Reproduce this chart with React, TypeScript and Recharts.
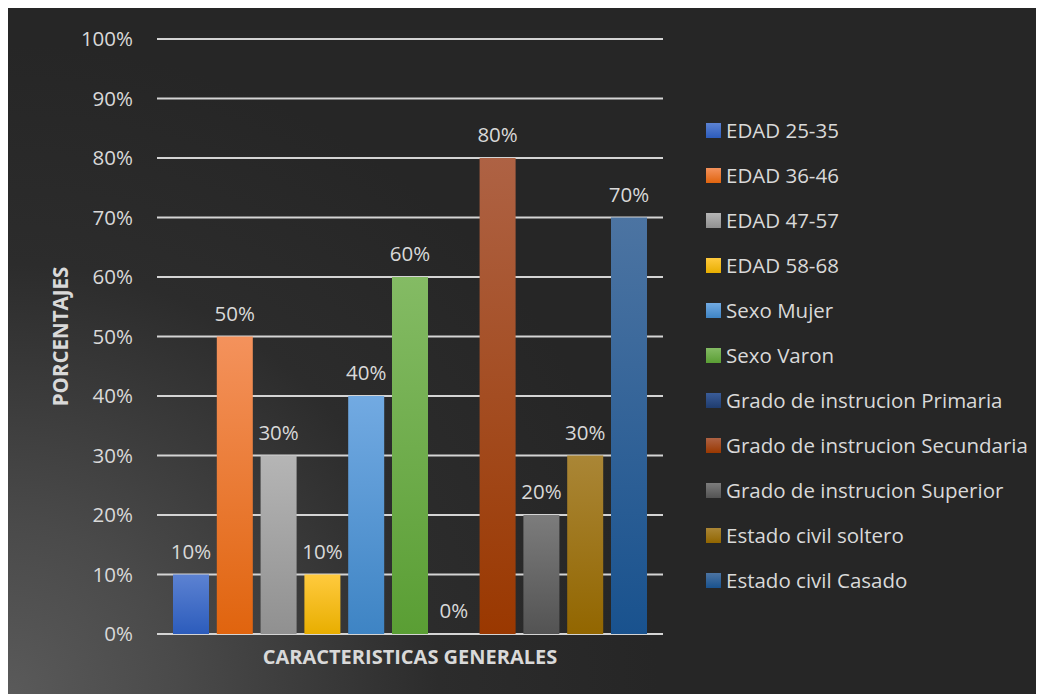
import React from 'react';
import { BarChart, Bar, XAxis, YAxis, CartesianGrid, Legend, LabelList } from 'recharts';

// One category, eleven series (one bar each)
const categories = ['CARACTERISTICAS GENERALES'];

const seriesNames = [
  'EDAD 25-35',
  'EDAD 36-46',
  'EDAD 47-57',
  'EDAD 58-68',
  'Sexo Mujer',
  'Sexo Varon',
  'Grado de instrucion Primaria',
  'Grado de instrucion Secundaria',
  'Grado de instrucion Superior',
  'Estado civil soltero',
  'Estado civil Casado',
];

const seriesValues = [10, 50, 30, 10, 40, 60, 0, 80, 20, 30, 70];

const yTicks = [0, 10, 20, 30, 40, 50, 60, 70, 80, 90, 100];

// Vertical gradient for each series: [top, bottom]
const seriesGradients: [string, string][] = [
  ['#5c82d2', '#2c5cbc'],
  ['#f4925c', '#e0640e'],
  ['#b5b5b5', '#909090'],
  ['#ffca3e', '#e8ae00'],
  ['#72aae2', '#3e84c4'],
  ['#84bb64', '#5a9e34'],
  ['#3a5c98', '#1f3c6e'],
  ['#ae6244', '#9a3800'],
  ['#7c7c7c', '#535353'],
  ['#aa8636', '#926600'],
  ['#4c74a2', '#19528e'],
];

const data = categories.map((name) => {
  const row: Record<string, string | number> = { name };
  seriesNames.forEach((s, i) => {
    row[s] = seriesValues[i];
  });
  return row;
});

const TEXT = '#d9d9d9';
const FONT = '"Open Sans", "Noto Sans", sans-serif';

// Legend in series order, with gradient swatches
const LegendList = (props: any) => {
  const payload = [...(props.payload || [])].sort(
    (a: any, b: any) => seriesNames.indexOf(a.value) - seriesNames.indexOf(b.value)
  );
  return (
    <div style={{ fontFamily: FONT }}>
      {payload.map((entry: any) => {
        const idx = seriesNames.indexOf(entry.value);
        return (
          <div
            key={entry.value}
            style={{ height: 45, display: 'flex', alignItems: 'center' }}
          >
            <svg width={15} height={15} style={{ flexShrink: 0 }}>
              <rect width={15} height={15} fill={`url(#bar-grad-${idx})`} />
            </svg>
            <span style={{ marginLeft: 5, fontSize: 20.5, color: TEXT, whiteSpace: 'nowrap' }}>
              {entry.value}
            </span>
          </div>
        );
      })}
    </div>
  );
};

const YTitle = (props: any) => {
  const vb = props.viewBox || {};
  const cx = vb.x + 52;
  const cy = vb.y + vb.height / 2;
  return (
    <text
      x={cx}
      y={cy}
      transform={`rotate(-90 ${cx} ${cy})`}
      textAnchor="middle"
      dominantBaseline="central"
      fill={TEXT}
      fontSize={20.5}
      fontWeight={700}
      fontFamily={FONT}
    >
      PORCENTAJES
    </text>
  );
};

// Value label centred above each bar (also drawn for zero-height bars)
const ValueLabel = (props: any) => {
  const { x, y, width, value } = props;
  if (x == null || y == null || value == null) return null;
  return (
    <text
      x={Number(x) + Number(width) / 2}
      y={Number(y) - 16}
      textAnchor="middle"
      fill={TEXT}
      fontSize={20.5}
      fontFamily={FONT}
    >
      {`${value}%`}
    </text>
  );
};

export default function App() {
  return (
    <div
      style={{
        width: 1036,
        height: 686,
        background:
          'radial-gradient(circle at 0% 100%, #5a5a5a 0px, #4a4a4a 170px, #2c2c2c 430px, #262626 650px)',
        fontFamily: FONT,
      }}
    >
      <BarChart
        width={1036}
        height={686}
        data={data}
        margin={{ top: 31, right: 51, bottom: 14, left: 0 }}
        barCategoryGap={16}
        barGap={7.8}
      >
        <defs>
          {seriesGradients.map(([top, bottom], i) => (
            <linearGradient key={i} id={`bar-grad-${i}`} x1="0" y1="0" x2="0" y2="1">
              <stop offset="0%" stopColor={top} />
              <stop offset="100%" stopColor={bottom} />
            </linearGradient>
          ))}
        </defs>
        <CartesianGrid vertical={false} stroke="#d4d4d4" strokeWidth={2} />
        <XAxis
          dataKey="name"
          height={46}
          tick={false}
          axisLine={false}
          tickLine={false}
          label={{
            value: 'CARACTERISTICAS GENERALES',
            position: 'center',
            fill: TEXT,
            fontSize: 20,
            fontWeight: 700,
            fontFamily: FONT,
          }}
        />
        <YAxis
          width={149}
          domain={[0, 100]}
          ticks={yTicks}
          interval={0}
          tickFormatter={(v: number) => `${v}%`}
          axisLine={false}
          tickLine={false}
          tickMargin={18}
          tick={{ fill: TEXT, fontSize: 20.5, fontFamily: FONT }}
          label={{ content: YTitle }}
        />
        <Legend
          layout="vertical"
          align="right"
          verticalAlign="top"
          content={LegendList}
          wrapperStyle={{ left: 698, top: 99.5, width: 330, right: 'auto' }}
        />
        {seriesNames.map((s, i) => (
          <Bar
            key={s}
            dataKey={s}
            name={s}
            fill={`url(#bar-grad-${i})`}
            minPointSize={0.01}
            isAnimationActive={false}
          >
            <LabelList dataKey={s} content={ValueLabel} />
          </Bar>
        ))}
      </BarChart>
    </div>
  );
}
